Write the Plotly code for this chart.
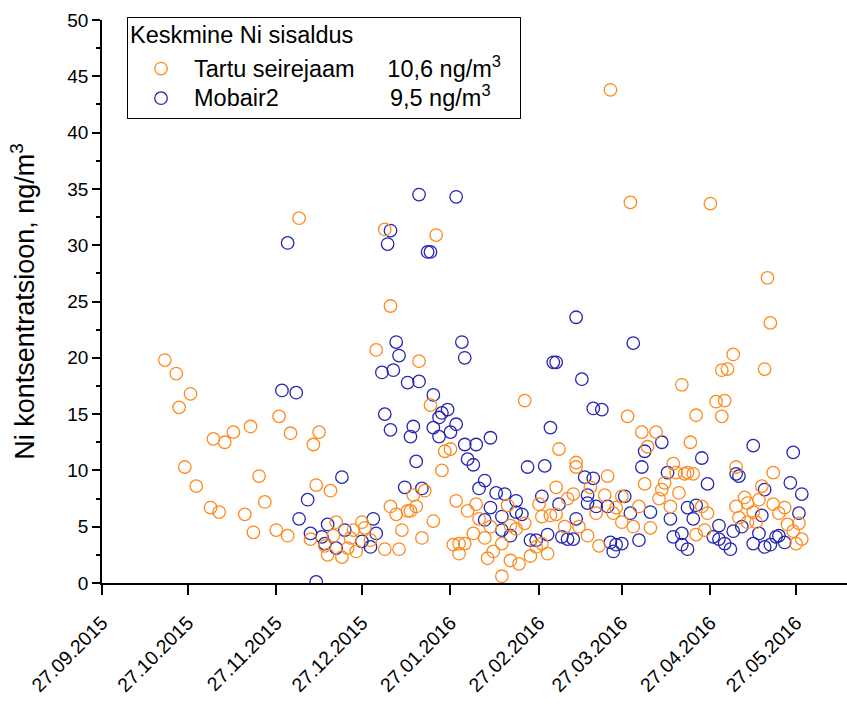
import plotly.graph_objects as go

# ---------------- data ----------------
tartu_dates = [
    "2015-10-19", "2015-10-23", "2015-10-24", "2015-10-26", "2015-10-28", "2015-10-30",
    "2015-11-04", "2015-11-05", "2015-11-07", "2015-11-09", "2015-11-12", "2015-11-16",
    "2015-11-18", "2015-11-19", "2015-11-21", "2015-11-23", "2015-11-27", "2015-11-28",
    "2015-12-01", "2015-12-02", "2015-12-05", "2015-12-09", "2015-12-10", "2015-12-11",
    "2015-12-12", "2015-12-14", "2015-12-15", "2015-12-16", "2015-12-17", "2015-12-18",
    "2015-12-20", "2015-12-22", "2015-12-23", "2015-12-24", "2015-12-25", "2015-12-27",
    "2015-12-28", "2015-12-30", "2016-01-01", "2016-01-04", "2016-01-04", "2016-01-06",
    "2016-01-06", "2016-01-08", "2016-01-09", "2016-01-10", "2016-01-12", "2016-01-13",
    "2016-01-14", "2016-01-15", "2016-01-16", "2016-01-17", "2016-01-18", "2016-01-20",
    "2016-01-21", "2016-01-22", "2016-01-24", "2016-01-25", "2016-01-27", "2016-01-28",
    "2016-01-29", "2016-01-30", "2016-01-30", "2016-02-01", "2016-02-02", "2016-02-04",
    "2016-02-05", "2016-02-06", "2016-02-08", "2016-02-09", "2016-02-10", "2016-02-11",
    "2016-02-14", "2016-02-14", "2016-02-16", "2016-02-17", "2016-02-17", "2016-02-19",
    "2016-02-20", "2016-02-22", "2016-02-22", "2016-02-24", "2016-02-26", "2016-02-27",
    "2016-02-28", "2016-02-28", "2016-03-01", "2016-03-02", "2016-03-04", "2016-03-04",
    "2016-03-05", "2016-03-07", "2016-03-08", "2016-03-10", "2016-03-11", "2016-03-11",
    "2016-03-12", "2016-03-15", "2016-03-16", "2016-03-18", "2016-03-19", "2016-03-21",
    "2016-03-22", "2016-03-23", "2016-03-24", "2016-03-25", "2016-03-27", "2016-03-27",
    "2016-03-29", "2016-03-30", "2016-03-31", "2016-04-02", "2016-04-03", "2016-04-04",
    "2016-04-05", "2016-04-06", "2016-04-08", "2016-04-09", "2016-04-10", "2016-04-11",
    "2016-04-13", "2016-04-14", "2016-04-15", "2016-04-16", "2016-04-17", "2016-04-18",
    "2016-04-19", "2016-04-20", "2016-04-21", "2016-04-22", "2016-04-22", "2016-04-24",
    "2016-04-25", "2016-04-26", "2016-04-27", "2016-04-29", "2016-05-01", "2016-05-01",
    "2016-05-02", "2016-05-03", "2016-05-05", "2016-05-06", "2016-05-06", "2016-05-07",
    "2016-05-09", "2016-05-10", "2016-05-10", "2016-05-12", "2016-05-13", "2016-05-14",
    "2016-05-15", "2016-05-16", "2016-05-17", "2016-05-18", "2016-05-19", "2016-05-19",
    "2016-05-21", "2016-05-23", "2016-05-24", "2016-05-26", "2016-05-27", "2016-05-28",
    "2016-05-29",
]
tartu_values = [
    19.8, 18.6, 15.6, 10.3, 16.8, 8.6,
    6.7, 12.8, 6.3, 12.5, 13.4, 6.1,
    13.9, 4.5, 9.5, 7.2, 4.7, 14.8,
    4.2, 13.3, 32.4, 3.9, 12.3, 8.7,
    13.4, 3.3, 2.5, 8.2, 4.2, 5.4,
    2.3, 3.1, 4.0, 4.7, 2.8, 5.4,
    4.9, 3.8, 20.7, 3.0, 31.4, 6.8,
    24.6, 6.1, 3.0, 4.7, 6.4, 6.4,
    7.8, 6.8, 19.7, 4.0, 8.2, 15.8,
    5.5, 30.9, 10.0, 11.7, 11.9, 3.4,
    7.3, 2.6, 3.5, 3.5, 6.4, 4.4,
    7.0, 5.7, 4.0, 2.2, 5.0, 2.8,
    3.5, 0.6, 6.9, 2.0, 5.1, 4.8,
    1.7, 5.3, 16.2, 2.4, 3.2, 7.0,
    3.5, 5.9, 2.6, 6.0, 6.1, 8.5,
    11.9, 5.0, 7.5, 7.9, 10.3, 10.7,
    5.0, 4.2, 8.5, 6.2, 3.3, 7.8,
    9.5, 43.8, 6.2, 6.7, 5.4, 7.7,
    14.8, 33.8, 5.0, 6.8, 13.4, 8.8,
    12.1, 4.9, 13.4, 7.5, 8.3, 8.9,
    6.8, 10.6, 9.8, 8.0, 17.6, 9.7,
    9.8, 12.5, 9.7, 14.9, 4.3, 6.8,
    4.7, 6.2, 33.7, 16.1, 14.8, 18.9,
    16.2, 19.0, 20.3, 10.3, 6.8, 5.8,
    7.6, 7.1, 5.4, 6.3, 5.4, 7.4,
    8.6, 19.0, 27.1, 23.1, 9.8, 7.0,
    6.2, 6.7, 5.2, 4.6, 3.5, 5.3,
    3.9,
]

mobair_dates = [
    "2015-11-29", "2015-12-01", "2015-12-04", "2015-12-05", "2015-12-08", "2015-12-09",
    "2015-12-11", "2015-12-13", "2015-12-14", "2015-12-15", "2015-12-18", "2015-12-20",
    "2015-12-21", "2015-12-27", "2015-12-30", "2015-12-31", "2016-01-01", "2016-01-03",
    "2016-01-04", "2016-01-05", "2016-01-06", "2016-01-06", "2016-01-07", "2016-01-08",
    "2016-01-09", "2016-01-11", "2016-01-12", "2016-01-13", "2016-01-14", "2016-01-15",
    "2016-01-16", "2016-01-16", "2016-01-17", "2016-01-19", "2016-01-20", "2016-01-21",
    "2016-01-21", "2016-01-23", "2016-01-23", "2016-01-24", "2016-01-26", "2016-01-27",
    "2016-01-29", "2016-01-29", "2016-01-31", "2016-02-01", "2016-02-01", "2016-02-02",
    "2016-02-04", "2016-02-05", "2016-02-06", "2016-02-08", "2016-02-08", "2016-02-10",
    "2016-02-10", "2016-02-12", "2016-02-14", "2016-02-14", "2016-02-15", "2016-02-17",
    "2016-02-19", "2016-02-19", "2016-02-21", "2016-02-23", "2016-02-24", "2016-02-26",
    "2016-02-28", "2016-02-29", "2016-03-01", "2016-03-02", "2016-03-03", "2016-03-04",
    "2016-03-05", "2016-03-06", "2016-03-08", "2016-03-10", "2016-03-11", "2016-03-11",
    "2016-03-13", "2016-03-14", "2016-03-15", "2016-03-15", "2016-03-17", "2016-03-17",
    "2016-03-18", "2016-03-20", "2016-03-22", "2016-03-23", "2016-03-24", "2016-03-25",
    "2016-03-27", "2016-03-28", "2016-03-30", "2016-03-31", "2016-04-02", "2016-04-03",
    "2016-04-04", "2016-04-06", "2016-04-10", "2016-04-12", "2016-04-13", "2016-04-14",
    "2016-04-17", "2016-04-17", "2016-04-19", "2016-04-19", "2016-04-21", "2016-04-22",
    "2016-04-24", "2016-04-26", "2016-04-28", "2016-04-30", "2016-04-30", "2016-05-02",
    "2016-05-04", "2016-05-05", "2016-05-06", "2016-05-07", "2016-05-08", "2016-05-12",
    "2016-05-12", "2016-05-14", "2016-05-15", "2016-05-16", "2016-05-16", "2016-05-18",
    "2016-05-20", "2016-05-21", "2016-05-23", "2016-05-25", "2016-05-26", "2016-05-28",
    "2016-05-29",
]
mobair_values = [
    17.1, 30.2, 16.9, 5.7, 7.4, 4.4,
    0.1, 4.1, 3.5, 5.2, 3.1, 9.4,
    4.7, 3.7, 3.2, 5.7, 4.4, 18.7,
    15.0, 30.1, 31.3, 13.6, 18.9, 21.4,
    20.2, 8.5, 17.8, 13.0, 13.9, 10.8,
    17.9, 34.5, 8.4, 29.4, 29.4, 16.7,
    13.8, 13.0, 14.7, 15.1, 15.4, 13.4,
    34.3, 14.1, 21.4, 20.0, 12.3, 11.0,
    10.5, 12.3, 8.4, 5.6, 9.1, 12.9,
    6.7, 8.0, 5.9, 4.7, 7.9, 4.2,
    7.3, 6.3, 6.1, 10.3, 3.8, 3.8,
    7.7, 10.4, 4.3, 13.8, 19.6, 19.6,
    7.0, 4.1, 3.9, 3.9, 5.7, 23.6,
    18.1, 9.4, 7.8, 7.1, 9.3, 15.5,
    6.8, 15.4, 6.8, 3.6, 2.8, 3.4,
    3.5, 7.7, 6.2, 21.3, 3.8, 10.3,
    11.7, 6.3, 12.5, 9.8, 5.7, 4.1,
    4.4, 3.4, 3.0, 6.7, 5.7, 6.9,
    11.1, 8.8, 4.1, 5.1, 3.9, 3.5,
    3.0, 4.6, 9.7, 9.5, 5.0, 12.2,
    3.5, 4.4, 6.0, 8.3, 3.2, 3.4,
    4.1, 4.2, 3.6, 8.9, 11.6, 6.2,
    7.9,
]

x_tick_dates = ["2015-09-27", "2015-10-27", "2015-11-27", "2015-12-27", "2016-01-27",
                "2016-02-27", "2016-03-27", "2016-04-27", "2016-05-27"]
x_tick_labels = ["27.09.2015", "27.10.2015", "27.11.2015", "27.12.2015", "27.01.2016",
                 "27.02.2016", "27.03.2016", "27.04.2016", "27.05.2016"]

legend_title = "Keskmine Ni sisaldus"
series_names = ["Tartu seirejaam", "Mobair2"]
series_means = ["10,6 ng/m<sup>3</sup>", "9,5 ng/m<sup>3</sup>"]
y_title = "Ni kontsentratsioon, ng/m<sup>3</sup>"

ORANGE = "#FF8A1C"
BLUE = "#2626B0"
FONT = "Liberation Sans, Arial, sans-serif"

NB = "\u00a0"
BIG = '<span style="font-size:23.5px">{}</span>'
TITLE_SPAN = '<span style="font-size:23.5px;baseline-shift:6px">{}</span>'
label_tartu = BIG.format(series_names[0] + NB * 5 + series_means[0] + NB * 2)
label_mobair = BIG.format(series_names[1] + NB * 17 + series_means[1])

fig = go.Figure()
fig.add_trace(go.Scatter(
    x=mobair_dates, y=mobair_values, mode="markers", name=label_mobair,
    marker=dict(symbol="circle-open", size=12.5, color=BLUE, line=dict(width=1.3, color=BLUE)),
))
fig.add_trace(go.Scatter(
    x=tartu_dates, y=tartu_values, mode="markers", name=label_tartu,
    marker=dict(symbol="circle-open", size=12.5, color=ORANGE, line=dict(width=1.3, color=ORANGE)),
))

fig.update_layout(
    width=847, height=704,
    margin=dict(l=102, r=0, t=20, b=121),
    paper_bgcolor="white", plot_bgcolor="white",
    font=dict(family=FONT, size=19.5, color="black"),
    showlegend=True,
    legend=dict(
        x=0.0336, y=1.005, xanchor="left", yanchor="top",
        traceorder="reversed",
        title=dict(text=TITLE_SPAN.format(legend_title), font=dict(size=23.5)),
        font=dict(size=20.5),
        bordercolor="black", borderwidth=1, bgcolor="white",
        itemwidth=56,
    ),
    xaxis=dict(
        type="date",
        range=["2015-09-27", "2016-06-13 20:00"],
        tickmode="array", tickvals=x_tick_dates, ticktext=x_tick_labels,
        tickangle=-45,
        ticks="outside", ticklen=10, tickwidth=1.5, tickcolor="black",
        ticklabelstandoff=9,
        showline=True, linewidth=1.5, linecolor="black",
        showgrid=False, zeroline=False,
        tickfont=dict(size=19.5),
    ),
    yaxis=dict(
        range=[0, 50], dtick=5, tick0=0,
        ticks="outside", ticklen=8, tickwidth=1.5, tickcolor="black",
        minor=dict(dtick=2.5, ticks="outside", ticklen=4, tickwidth=1.5, tickcolor="black"),
        showline=True, linewidth=1.5, linecolor="black",
        showgrid=False, zeroline=False,
        tickfont=dict(size=19),
        title=dict(text=y_title, font=dict(size=27), standoff=25),
    ),
)

fig.write_html("out.html")
